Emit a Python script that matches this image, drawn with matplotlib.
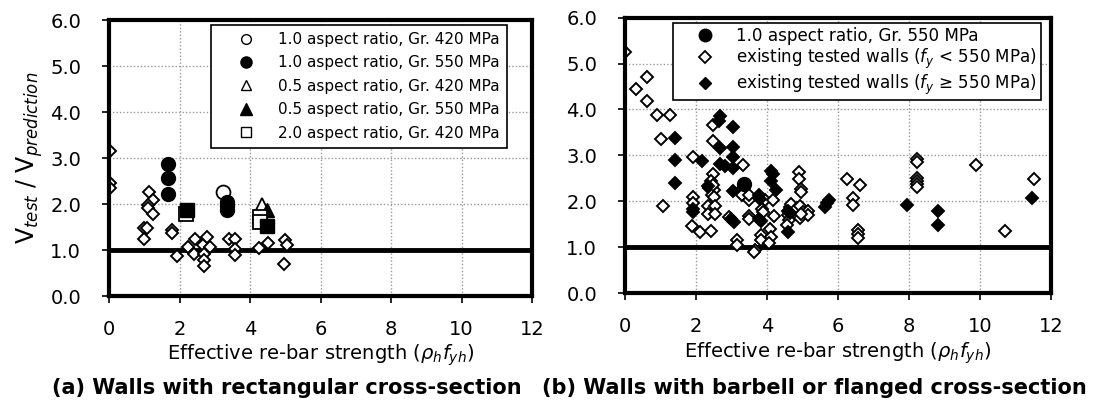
import matplotlib
matplotlib.use("Agg")
import matplotlib.pyplot as plt
from matplotlib.lines import Line2D

plt.rcParams['font.family'] = ['DejaVu Sans']
plt.rcParams['mathtext.fontset'] = 'dejavusans'

# ---- panel (a): rectangular walls ----
a_exist_x = [0.03, 0.03, 0.03, 1.14, 1.24, 1.1, 1.12, 1.24, 1.0, 1.07, 1.0, 1.78, 1.78,
             1.92, 2.25, 2.44, 2.42, 2.68, 2.7, 2.7, 2.7, 2.79, 2.87,
             3.41, 3.56, 3.56, 3.56, 4.24, 4.5, 5.0, 5.05, 4.95]
a_exist_y = [3.15, 2.46, 2.34, 2.27, 2.09, 1.98, 1.91, 1.78, 1.47, 1.47, 1.25, 1.43, 1.36,
             0.87, 1.06, 1.25, 0.91, 1.11, 0.91, 0.79, 0.65, 1.28, 1.07,
             1.23, 1.23, 1.02, 0.89, 1.05, 1.16, 1.22, 1.1, 0.7]
a_c420_x = [3.22]
a_c420_y = [2.27]
a_c550_x = [1.68, 1.68, 1.68, 3.35, 3.35, 3.35]
a_c550_y = [2.88, 2.56, 2.22, 2.05, 1.95, 1.88]
a_t420_x = [4.33]
a_t420_y = [1.98]
a_t550_x = [4.49]
a_t550_y = [1.88]
a_s420_x = [2.18, 4.28, 4.28]
a_s420_y = [1.78, 1.72, 1.62]
a_s550_x = [2.22, 4.49]
a_s550_y = [1.87, 1.52]

# ---- panel (b): barbell / flanged walls ----
b_c550_x = [3.35]
b_c550_y = [2.38]
b_low_x = [0, 0.31, 0.63, 0.63, 0.9, 1.27, 1.01, 1.08,
           1.92, 1.92, 1.92, 1.9, 2.12, 2.42,
           2.47, 2.47, 2.49, 2.42, 2.38, 2.5, 2.45, 2.51, 2.35, 2.54, 2.35, 2.54, 2.48,
           3.32, 3.29, 3.29, 3.5, 3.5, 3.49, 3.49, 2.94, 3.17, 3.17,
           3.94, 4.17, 3.86, 3.88, 4.2, 3.84, 3.84, 4.1, 4.12, 4.05, 3.66, 3.63,
           4.65, 4.6, 4.62, 4.58, 4.69, 4.85, 4.93, 5.03, 4.93, 5.17, 5.17, 4.95,
           4.9, 4.9, 4.97, 4.97,
           6.26, 6.62, 6.42, 6.42, 6.58, 6.58, 6.58,
           8.22, 8.22, 8.22, 8.22, 8.22, 8.22,
           9.9, 11.52, 10.72]
b_low_y = [5.25, 4.45, 4.7, 4.18, 3.87, 3.87, 3.36, 1.9,
           2.97, 2.1, 1.97, 1.46, 1.33, 1.36,
           3.66, 3.32, 2.6, 2.45, 2.3, 2.25, 2.15, 2.09, 1.89, 1.89, 1.72, 1.73, 2.35,
           2.8, 2.27, 2.13, 2.02, 2.13, 1.69, 1.62, 1.66, 1.15, 1.05,
           2.02, 2.02, 1.84, 1.77, 1.69, 1.26, 1.15, 1.41, 1.22, 1.1, 0.94, 0.9,
           1.87, 1.7, 1.6, 1.48, 1.95, 1.85, 1.91, 1.78, 1.63, 1.8, 1.7, 1.72,
           2.63, 2.48, 2.28, 2.2,
           2.49, 2.35, 2.08, 1.93, 1.37, 1.29, 1.21,
           2.92, 2.85, 2.52, 2.45, 2.38, 2.32,
           2.8, 2.49, 1.36]
b_high_x = [1.4, 1.4, 1.4, 1.92, 1.92, 2.18, 2.35,
            2.68, 2.65, 2.68, 2.68, 2.82, 3.04, 3.04, 3.04, 3.04, 3.04, 2.99, 3.07,
            3.78, 3.8, 3.78, 3.84,
            4.13, 4.18, 4.13, 4.25,
            4.6, 4.64, 4.6,
            5.63, 5.7, 5.76,
            7.94, 8.83, 8.83, 11.47]
b_high_y = [3.39, 2.9, 2.39, 1.84, 1.77, 2.87, 2.34,
            3.86, 3.76, 3.17, 2.81, 2.76, 3.62, 3.19, 2.96, 2.72, 2.22, 1.62, 1.55,
            2.15, 2.05, 1.62, 1.58,
            2.67, 2.6, 2.45, 2.25,
            1.8, 1.75, 1.33,
            1.87, 1.97, 2.03,
            1.93, 1.79, 1.48, 2.07]

xticks = [0, 2, 4, 6, 8, 10, 12]
yticks = [0, 1, 2, 3, 4, 5, 6]
xlabel = r"Effective re-bar strength ($\rho_h f_{yh}$)"

fig = plt.figure(figsize=(11.02, 4.08), dpi=100)
ax1 = fig.add_axes([0.0989, 0.2745, 0.384, 0.676])
ax2 = fig.add_axes([0.567, 0.281, 0.3866, 0.676])


def style_axes(ax):
    ax.set_xlim(0, 12)
    ax.set_ylim(0, 6)
    ax.set_xticks(xticks)
    ax.set_yticks(yticks)
    ax.set_yticklabels(["%.1f" % v for v in yticks])
    ax.grid(True, linestyle=(0, (1, 1.5)), color="#999999", linewidth=1)
    ax.set_axisbelow(True)
    for s in ax.spines.values():
        s.set_linewidth(3)
    ax.tick_params(axis="both", direction="out", length=5, width=1.2,
                   labelsize=14)
    ax.tick_params(axis="x", pad=12)
    ax.tick_params(axis="y", pad=15)
    ax.axhline(1.0, color="black", linewidth=3.5, zorder=1.5)
    ax.set_xlabel(xlabel, fontsize=14, labelpad=3)


style_axes(ax1)
style_axes(ax2)

dia = dict(marker="D", ms=6.5, mew=1.4, mec="black", linestyle="none")
ax1.plot(a_exist_x, a_exist_y, mfc="white", **dia)
ax1.plot(a_c420_x, a_c420_y, "o", ms=10, mfc="white", mec="black", mew=1.3)
ax1.plot(a_c550_x, a_c550_y, "o", ms=10, mfc="black", mec="black")
ax1.plot(a_t420_x, a_t420_y, "^", ms=10, mfc="white", mec="black", mew=1.3)
ax1.plot(a_t550_x, a_t550_y, "^", ms=10, mfc="black", mec="black")
ax1.plot(a_s420_x, a_s420_y, "s", ms=9.5, mfc="white", mec="black", mew=1.3)
ax1.plot(a_s550_x, a_s550_y, "s", ms=9.5, mfc="black", mec="black")

ax2.plot(b_low_x, b_low_y, mfc="white", **dia)
ax2.plot(b_high_x, b_high_y, mfc="black", **dia)
ax2.plot(b_c550_x, b_c550_y, "o", ms=10, mfc="black", mec="black")

ax1.set_ylabel(r"V$_{test}$ / V$_{prediction}$", fontsize=17, labelpad=4)

handles1 = [
    Line2D([], [], marker="o", ls="none", ms=7, mfc="white", mec="black"),
    Line2D([], [], marker="o", ls="none", ms=8, mfc="black", mec="black"),
    Line2D([], [], marker="^", ls="none", ms=7, mfc="white", mec="black"),
    Line2D([], [], marker="^", ls="none", ms=8, mfc="black", mec="black"),
    Line2D([], [], marker="s", ls="none", ms=7, mfc="white", mec="black"),
]
labels1 = ["1.0 aspect ratio, Gr. 420 MPa", "1.0 aspect ratio, Gr. 550 MPa",
           "0.5 aspect ratio, Gr. 420 MPa", "0.5 aspect ratio, Gr. 550 MPa",
           "2.0 aspect ratio, Gr. 420 MPa"]
leg1 = ax1.legend(handles1, labels1, loc="upper left", bbox_to_anchor=(0.241, 0.982),
                  fontsize=11, frameon=True, fancybox=False, edgecolor="black",
                  framealpha=1, borderpad=0.45, labelspacing=0.55, handlelength=3.7,
                  handletextpad=0.25, borderaxespad=0)
leg1.get_frame().set_linewidth(1.2)

handles2 = [
    Line2D([], [], marker="o", ls="none", ms=9, mfc="black", mec="black"),
    Line2D([], [], marker="D", ls="none", ms=6, mfc="white", mec="black", mew=1.3),
    Line2D([], [], marker="D", ls="none", ms=6, mfc="black", mec="black"),
]
labels2 = ["1.0 aspect ratio, Gr. 550 MPa",
           r"existing tested walls ($f_y$ < 550 MPa)",
           r"existing tested walls ($f_y$ ≥ 550 MPa)"]
leg2 = ax2.legend(handles2, labels2, loc="upper left", bbox_to_anchor=(0.113, 0.979),
                  fontsize=12.1, frameon=True, fancybox=False, edgecolor="black",
                  framealpha=1, borderpad=0.22, labelspacing=0.1, handlelength=3.4,
                  handletextpad=0.15, borderaxespad=0)
leg2.get_frame().set_linewidth(1.2)

fig.text(0.26, 0.035, "(a) Walls with rectangular cross-section",
         fontsize=15, fontweight="bold", ha="center")
fig.text(0.739, 0.035, "(b) Walls with barbell or flanged cross-section",
         fontsize=15, fontweight="bold", ha="center")

fig.savefig("out.png", dpi=100)
